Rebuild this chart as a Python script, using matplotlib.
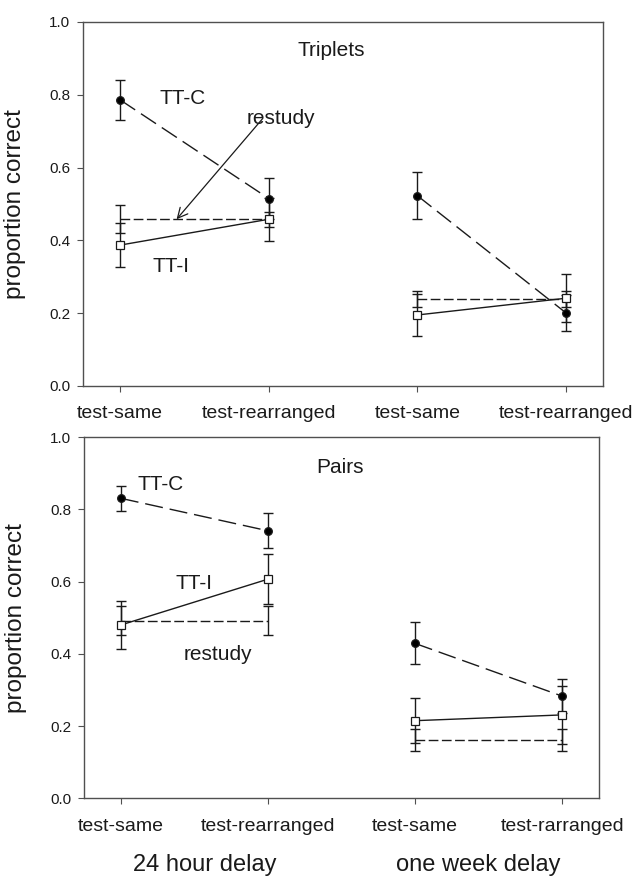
import matplotlib

matplotlib.use("Agg")
import matplotlib.pyplot as plt

plt.rcParams["font.family"] = ["Liberation Sans", "DejaVu Sans"]

# x positions: 24h same, 24h rearranged, week same, week rearranged
conds = [1, 2, 3, 4]
top_ticklabels = ["test-same", "test-rearranged", "test-same", "test-rearranged"]
bot_ticklabels = ["test-same", "test-rearranged", "test-same", "test-rarranged"]

# Triplets
trip_ttc = [0.786, 0.515, 0.523, 0.201]
trip_ttc_err = [0.055, 0.057, 0.064, 0.050]
trip_tti = [0.387, 0.458, 0.195, 0.241]
trip_tti_err = [0.061, 0.059, 0.058, 0.066]
trip_rest = [0.458, 0.458, 0.239, 0.239]
trip_rest_err = [0.039, 0.021, 0.021, 0.021]

# Pairs
pair_ttc = [0.831, 0.741, 0.429, 0.283]
pair_ttc_err = [0.035, 0.048, 0.058, 0.047]
pair_tti = [0.480, 0.607, 0.215, 0.231]
pair_tti_err = [0.067, 0.070, 0.062, 0.080]
pair_rest = [0.492, 0.492, 0.162, 0.162]
pair_rest_err = [0.040, 0.040, 0.030, 0.030]

INK = "#1a1a1a"
SPINE = "#505050"
LABEL_FS = 15


def _series(ax, y, err, ls, marker=None, mfc="black", ms=5.5, lw=1.0):
    for seg in (slice(0, 2), slice(2, 4)):
        xs = conds[seg]
        ax.errorbar(xs, y[seg], yerr=err[seg], fmt="none", ecolor=INK,
                    elinewidth=1.0, capsize=3.5, capthick=1.0, zorder=2)
        ax.plot(xs, y[seg], color=INK, linestyle=ls, linewidth=lw,
                marker=marker, markersize=ms, markerfacecolor=mfc,
                markeredgecolor=INK, markeredgewidth=0.9, zorder=3)


def _panel(ax, ttc, ttc_e, tti, tti_e, rest, rest_e, ticklabels):
    _series(ax, rest, rest_e, (0, (7, 2.5)))
    _series(ax, tti, tti_e, "-", marker="s", mfc="white", ms=5.5)
    _series(ax, ttc, ttc_e, (0, (13, 5)), marker="o", mfc="black", ms=5.5)

    ax.set_xlim(0.75, 4.25)
    ax.set_ylim(0, 1.0)
    ax.set_yticks([0.0, 0.2, 0.4, 0.6, 0.8, 1.0])
    ax.set_yticklabels(["0.0", "0.2", "0.4", "0.6", "0.8", "1.0"])
    ax.set_xticks(conds)
    ax.set_xticklabels(ticklabels, fontsize=14)
    ax.tick_params(axis="x", direction="out", length=4, pad=10,
                   color=SPINE, labelcolor=INK)
    ax.tick_params(axis="y", direction="out", length=4, pad=5,
                   color=SPINE, labelsize=11, labelcolor=INK)
    for s in ax.spines.values():
        s.set_color(SPINE)
        s.set_linewidth(1.0)
    ax.set_ylabel("proportion correct", fontsize=17.5, color=INK)
    ax.yaxis.set_label_coords(-0.11, 0.5)


fig = plt.figure(figsize=(6.33, 8.76), dpi=100)
ax1 = fig.add_axes([0.1311, 0.5594, 0.8215, 0.4155])
ax2 = fig.add_axes([0.1327, 0.0887, 0.8136, 0.4121])

_panel(ax1, trip_ttc, trip_ttc_err, trip_tti, trip_tti_err,
       trip_rest, trip_rest_err, top_ticklabels)
_panel(ax2, pair_ttc, pair_ttc_err, pair_tti, pair_tti_err,
       pair_rest, pair_rest_err, bot_ticklabels)

# ── labels, Triplets ──
ax1.text(2.42, 0.923, "Triplets", ha="center", va="center",
         fontsize=LABEL_FS, color=INK)
ax1.text(1.42, 0.79, "TT-C", ha="center", va="center",
         fontsize=LABEL_FS, color=INK)
ax1.text(1.34, 0.328, "TT-I", ha="center", va="center",
         fontsize=LABEL_FS, color=INK)
ax1.text(2.08, 0.735, "restudy", ha="center", va="center",
         fontsize=LABEL_FS, color=INK)
ax1.annotate("", xy=(1.38, 0.458), xytext=(1.96, 0.735),
             arrowprops=dict(arrowstyle="->", color=INK, lw=0.9,
                             mutation_scale=18, shrinkA=0, shrinkB=0))

# ── labels, Pairs ──
ax2.text(2.49, 0.917, "Pairs", ha="center", va="center",
         fontsize=LABEL_FS, color=INK)
ax2.text(1.27, 0.868, "TT-C", ha="center", va="center",
         fontsize=LABEL_FS, color=INK)
ax2.text(1.50, 0.594, "TT-I", ha="center", va="center",
         fontsize=LABEL_FS, color=INK)
ax2.text(1.66, 0.397, "restudy", ha="center", va="center",
         fontsize=LABEL_FS, color=INK)

fig.text(0.323, 0.013, "24 hour delay", ha="center", va="center",
         fontsize=17, color=INK)
fig.text(0.755, 0.013, "one week delay", ha="center", va="center",
         fontsize=17, color=INK)

fig.savefig("out.png", dpi=100, facecolor="white")
plt.close(fig)
